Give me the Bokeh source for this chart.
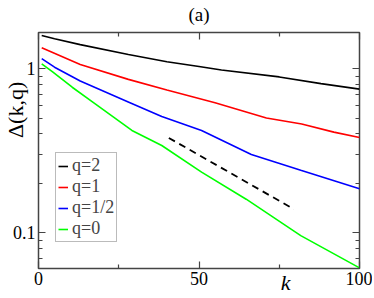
from bokeh.plotting import figure
from bokeh.models import (Range1d, FixedTicker, LinearAxis, LogAxis,
                          Legend, LegendItem, CustomJSTickFormatter, CustomLabelingPolicy)
from bokeh.embed import file_html
from bokeh.resources import INLINE

# ---- data ----
k_q2 = [1, 5, 13, 28, 40, 50, 57, 75, 88, 100]
d_q2 = [1.59, 1.52, 1.40, 1.22, 1.10, 1.03, 0.98, 0.89, 0.81, 0.75]

k_q1 = [1, 13, 28, 40, 55, 71, 82, 92, 100]
d_q1 = [1.34, 1.06, 0.86, 0.74, 0.62, 0.50, 0.46, 0.41, 0.38]

k_qh = [1, 5, 13, 28.5, 38.4, 50.8, 66.3, 81.7, 100]
d_qh = [1.15, 1.02, 0.84, 0.62, 0.51, 0.42, 0.30, 0.24, 0.185]

k_q0 = [1, 4.3, 10.5, 16.7, 29.1, 38.4, 50.8, 64.7, 81.7, 100]
d_q0 = [1.07, 0.96, 0.77, 0.63, 0.42, 0.34, 0.234, 0.16, 0.096, 0.061]

k_ref = [40.6, 79.6]
d_ref = [0.378, 0.139]

series_labels = ["q=2", "q=1", "q=1/2", "q=0"]
series_colors = ["black", "#ff0000", "#0000ff", "#00ff00"]

x_major = [0, 50, 100]
x_minor = [25, 75]
y_major = [0.1, 1]
y_minor = [0.07, 0.08, 0.09, 0.2, 0.3, 0.4, 0.5, 0.6, 0.7, 0.8, 0.9]

title_text = "(a)"
x_label = "k"
y_label = "Δ(k,q)"

FONT = "Liberation Serif"
AX = "#444444"

p = figure(width=372, height=298, y_axis_type="log",
           x_range=Range1d(0, 100), y_range=Range1d(0.0605, 1.66),
           output_backend="svg", toolbar_location=None,
           min_border_left=36, min_border_right=13,
           min_border_top=27, min_border_bottom=30)
p.grid.visible = False
p.outline_line_color = AX
p.outline_line_width = 1.5

xt = FixedTicker(ticks=x_major, minor_ticks=x_minor)
yt = FixedTicker(ticks=y_major, minor_ticks=y_minor)
yfmt = CustomJSTickFormatter(code="return tick >= 1 ? tick.toFixed(0) : tick.toFixed(1);")
hide_all = CustomLabelingPolicy(code="for (const i of Array.from(indices)) indices.unset(i); return indices;")


def style_axis(ax, labels=True):
    ax.axis_line_color = None
    ax.major_tick_line_color = AX
    ax.minor_tick_line_color = AX
    ax.major_tick_line_width = 1.2
    ax.minor_tick_line_width = 1.2
    ax.major_tick_in = 7
    ax.major_tick_out = 0
    ax.minor_tick_in = 4
    ax.minor_tick_out = 0
    ax.major_label_text_font = FONT
    ax.major_label_text_color = "black"
    ax.axis_label_text_font = FONT
    ax.axis_label_text_color = "black"
    if labels:
        ax.major_label_text_font_size = "18px"
        ax.major_label_standoff = 3
    else:
        ax.major_label_text_font_size = "1px"
        ax.major_label_policy = hide_all
        ax.major_label_standoff = 0


def label_axis(ax, text, size, style, standoff):
    # an axis without line or ticks that only carries one text at a chosen place
    ax.axis_line_color = None
    ax.major_tick_line_color = None
    ax.minor_tick_line_color = None
    ax.major_tick_in = 0
    ax.major_tick_out = 0
    ax.minor_tick_in = 0
    ax.minor_tick_out = 0
    ax.formatter = CustomJSTickFormatter(args=dict(txt=text), code="return txt;")
    ax.major_label_text_font = FONT
    ax.major_label_text_font_size = size
    ax.major_label_text_font_style = style
    ax.major_label_text_color = "black"
    ax.major_label_standoff = standoff


xa = p.xaxis[0]
ya = p.yaxis[0]
xa.ticker = xt
ya.ticker = yt
ya.formatter = yfmt
style_axis(xa)
style_axis(ya)

top = LinearAxis(ticker=xt)
style_axis(top, labels=False)
top.axis_label = title_text
top.axis_label_text_font_style = "normal"
top.axis_label_text_font_size = "19px"
top.axis_label_standoff = 4
p.add_layout(top, "above")

right = LogAxis(ticker=yt)
style_axis(right, labels=False)
p.add_layout(right, "right")

# x label "k": placed near k = 77 under the tick labels
xl = LinearAxis(ticker=FixedTicker(ticks=[77], minor_ticks=[]))
label_axis(xl, x_label, "22px", "italic", -18)
p.add_layout(xl, "below")

# y label: centred above the middle of the log axis
yl = LinearAxis(ticker=FixedTicker(ticks=[0.56], minor_ticks=[]))
label_axis(yl, y_label, "22px", "normal", -19)
yl.major_label_orientation = "parallel"
p.add_layout(yl, "left")

ks = [k_q2, k_q1, k_qh, k_q0]
ds = [d_q2, d_q1, d_qh, d_q0]
rs = []
for kk, dd, c in zip(ks, ds, series_colors):
    rs.append(p.line(kk, dd, line_color=c, line_width=1.6))

p.line(k_ref, d_ref, line_color="black", line_width=1.8, line_dash="7 5")

legend = Legend(items=[LegendItem(label=l, renderers=[r]) for l, r in zip(series_labels, rs)],
                location=(17, 26))
legend.label_text_font = FONT
legend.label_text_font_size = "18px"
legend.label_text_line_height = 1.0
legend.label_height = 18
legend.glyph_height = 18
legend.glyph_width = 10
legend.label_standoff = 4
legend.spacing = -2
legend.padding = 2
legend.margin = 0
legend.border_line_color = "#777777"
legend.border_line_width = 1
legend.background_fill_alpha = 1
p.add_layout(legend, "center")

open("out.html", "w").write(file_html(p, INLINE))
